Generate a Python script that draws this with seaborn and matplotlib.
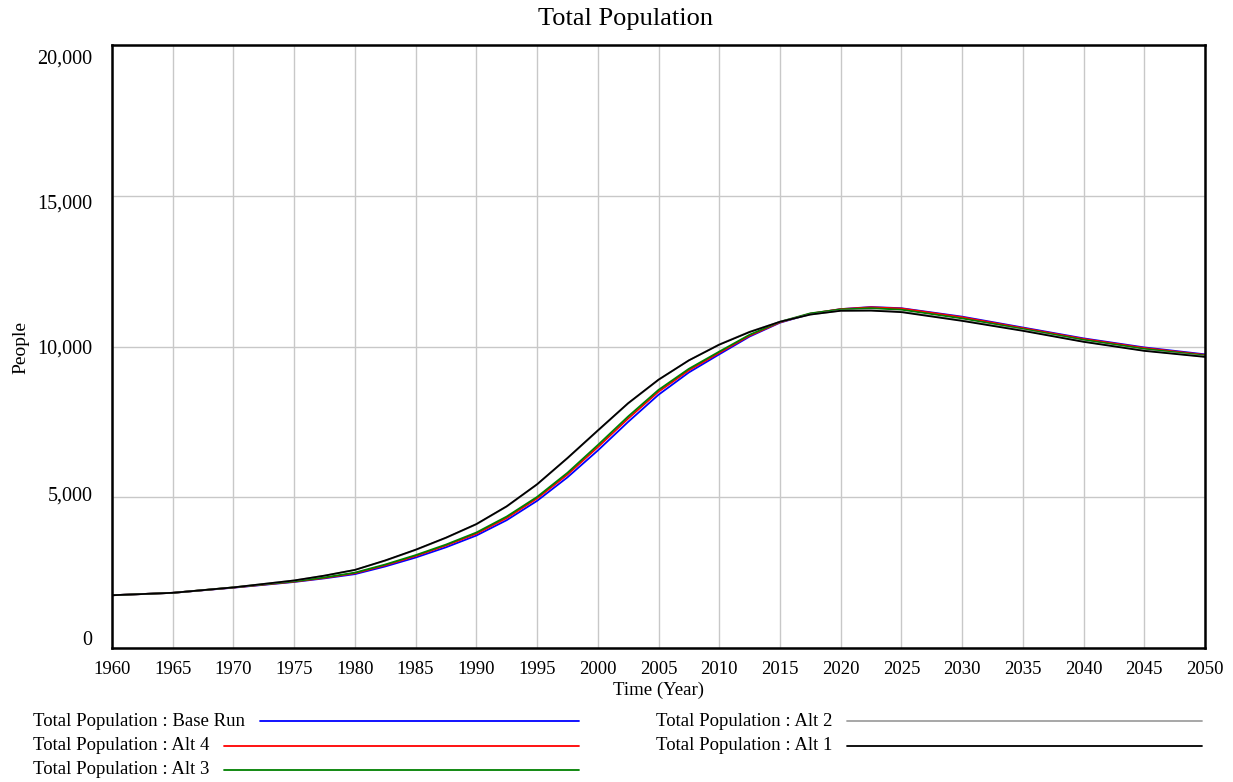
import matplotlib
matplotlib.use("Agg")
import matplotlib.pyplot as plt
import matplotlib.transforms as mtransforms
from matplotlib.lines import Line2D
from matplotlib.ticker import FuncFormatter
import pandas as pd
import seaborn as sns

# Simulation output: Total Population (People) by year for each run
years = [1960, 1965, 1970, 1975, 1977.5, 1980, 1982.5, 1985, 1987.5, 1990,
         1992.5, 1995, 1997.5, 2000, 2002.5, 2005, 2007.5, 2010, 2012.5,
         2015, 2017.5, 2020, 2022.5, 2025, 2030, 2035, 2040, 2045, 2050]

base_run = [1750, 1830, 2000, 2190, 2310, 2450, 2705, 3000, 3340, 3730,
            4240, 4880, 5660, 6550, 7500, 8400, 9140, 9740, 10330,
            10790, 11080, 11240, 11310, 11270, 10990, 10630, 10270, 9970, 9740]
alt_4 = [1750, 1830, 2005, 2200, 2325, 2480, 2745, 3050, 3400, 3790,
         4310, 4960, 5750, 6660, 7610, 8500, 9210, 9790, 10360,
         10800, 11090, 11240, 11300, 11260, 10970, 10610, 10250, 9950, 9720]
alt_3 = [1750, 1830, 2010, 2210, 2340, 2500, 2770, 3080, 3430, 3830,
         4360, 5010, 5810, 6730, 7680, 8560, 9260, 9830, 10390,
         10820, 11100, 11230, 11270, 11220, 10930, 10580, 10220, 9920, 9700]
alt_2 = [1750, 1830, 2010, 2240, 2400, 2590, 2895, 3250, 3650, 4100,
         4690, 5420, 6290, 7200, 8110, 8890, 9540, 10070, 10490,
         10820, 11060, 11190, 11200, 11160, 10870, 10540, 10170, 9870, 9670]
alt_1 = [1750, 1830, 2010, 2240, 2400, 2590, 2905, 3260, 3660, 4110,
         4700, 5430, 6300, 7215, 8120, 8900, 9540, 10060, 10480,
         10820, 11060, 11185, 11190, 11140, 10850, 10520, 10155, 9855, 9655]

run_names = ["Total Population : Base Run", "Total Population : Alt 4",
             "Total Population : Alt 3", "Total Population : Alt 2",
             "Total Population : Alt 1"]
run_values = [base_run, alt_4, alt_3, alt_2, alt_1]
run_colors = ["#0000ff", "#ff0000", "#008000", "#a0a0a0", "#000000"]

x_ticks = list(range(1960, 2051, 5))
y_ticks = [0, 5000, 10000, 15000, 20000]

frames = [pd.DataFrame({"Year": years, "People": vals, "Run": name})
          for name, vals in zip(run_names, run_values)]
df = pd.concat(frames, ignore_index=True)

sns.set_theme(style="white")
plt.rcParams["font.family"] = ["Liberation Serif", "DejaVu Serif"]

W, H = 1233, 782
fig = plt.figure(figsize=(W / 100, H / 100), dpi=100)
ax_l, ax_r, ax_t, ax_b = 112, 1205, 45, 648
ax = fig.add_axes([ax_l / W, 1 - ax_b / H, (ax_r - ax_l) / W, (ax_b - ax_t) / H])

sns.lineplot(data=df, x="Year", y="People", hue="Run", hue_order=run_names,
             palette=run_colors, linewidth=1.3, legend=False, ax=ax,
             estimator=None, sort=False)

ax.set_xlim(1960, 2050)
ax.set_ylim(0, 20000)
ax.set_xticks(x_ticks)
ax.set_yticks(y_ticks)
ax.yaxis.set_major_formatter(FuncFormatter(lambda v, p: f"{int(v):,}"))
ax.grid(True, color="#c8c8c8", linewidth=1.0)
ax.set_axisbelow(True)
for sp in ax.spines.values():
    sp.set_color("black")
    sp.set_linewidth(1.8)

ax.tick_params(axis="x", length=0, pad=9, labelsize=13.5, colors="black")
ax.tick_params(axis="y", length=0, pad=14, labelsize=14.5, colors="black")

# y labels are spread evenly inside the plot range rather than on the gridlines
offsets_px = [-10, -4, 0, 6, 12]  # positive = downward
for lab, off in zip(ax.get_yticklabels(), offsets_px):
    lab.set_transform(lab.get_transform() +
                      mtransforms.ScaledTranslation(0, -off / 100, fig.dpi_scale_trans))

ax.set_xlabel("Time (Year)", fontsize=13.5, color="black")
ax.xaxis.label.set_va("center")
ax.xaxis.set_label_coords(0.5, (ax_b - 690) / (ax_b - ax_t))
ax.set_ylabel("People", fontsize=14, color="black")
ax.yaxis.label.set_va("center")
ax.yaxis.label.set_ha("center")
ax.yaxis.set_label_coords((21 - ax_l) / (ax_r - ax_l), (ax_b - 348) / (ax_b - ax_t))

fig.text(626 / W, 1 - 19 / H, "Total Population", ha="center", va="center",
         fontsize=19, color="black")

# Legend: label text followed by a line sample running to a fixed right edge
legend_layout = [
    (33, 721, 579), (33, 746, 579), (33, 770, 579),
    (656, 721, 1202), (656, 746, 1202),
]
fig.canvas.draw()
renderer = fig.canvas.get_renderer()
for name, color, (tx, ty, line_end) in zip(run_names, run_colors, legend_layout):
    t = fig.text(tx / W, 1 - ty / H, name, ha="left", va="center",
                 fontsize=13.5, color="black")
    bb = t.get_window_extent(renderer=renderer)
    x0 = bb.x1 + 15
    fig.add_artist(Line2D([x0 / W, line_end / W], [1 - ty / H, 1 - ty / H],
                          transform=fig.transFigure, color=color, linewidth=1.3))

fig.savefig("out.png", dpi=100)
